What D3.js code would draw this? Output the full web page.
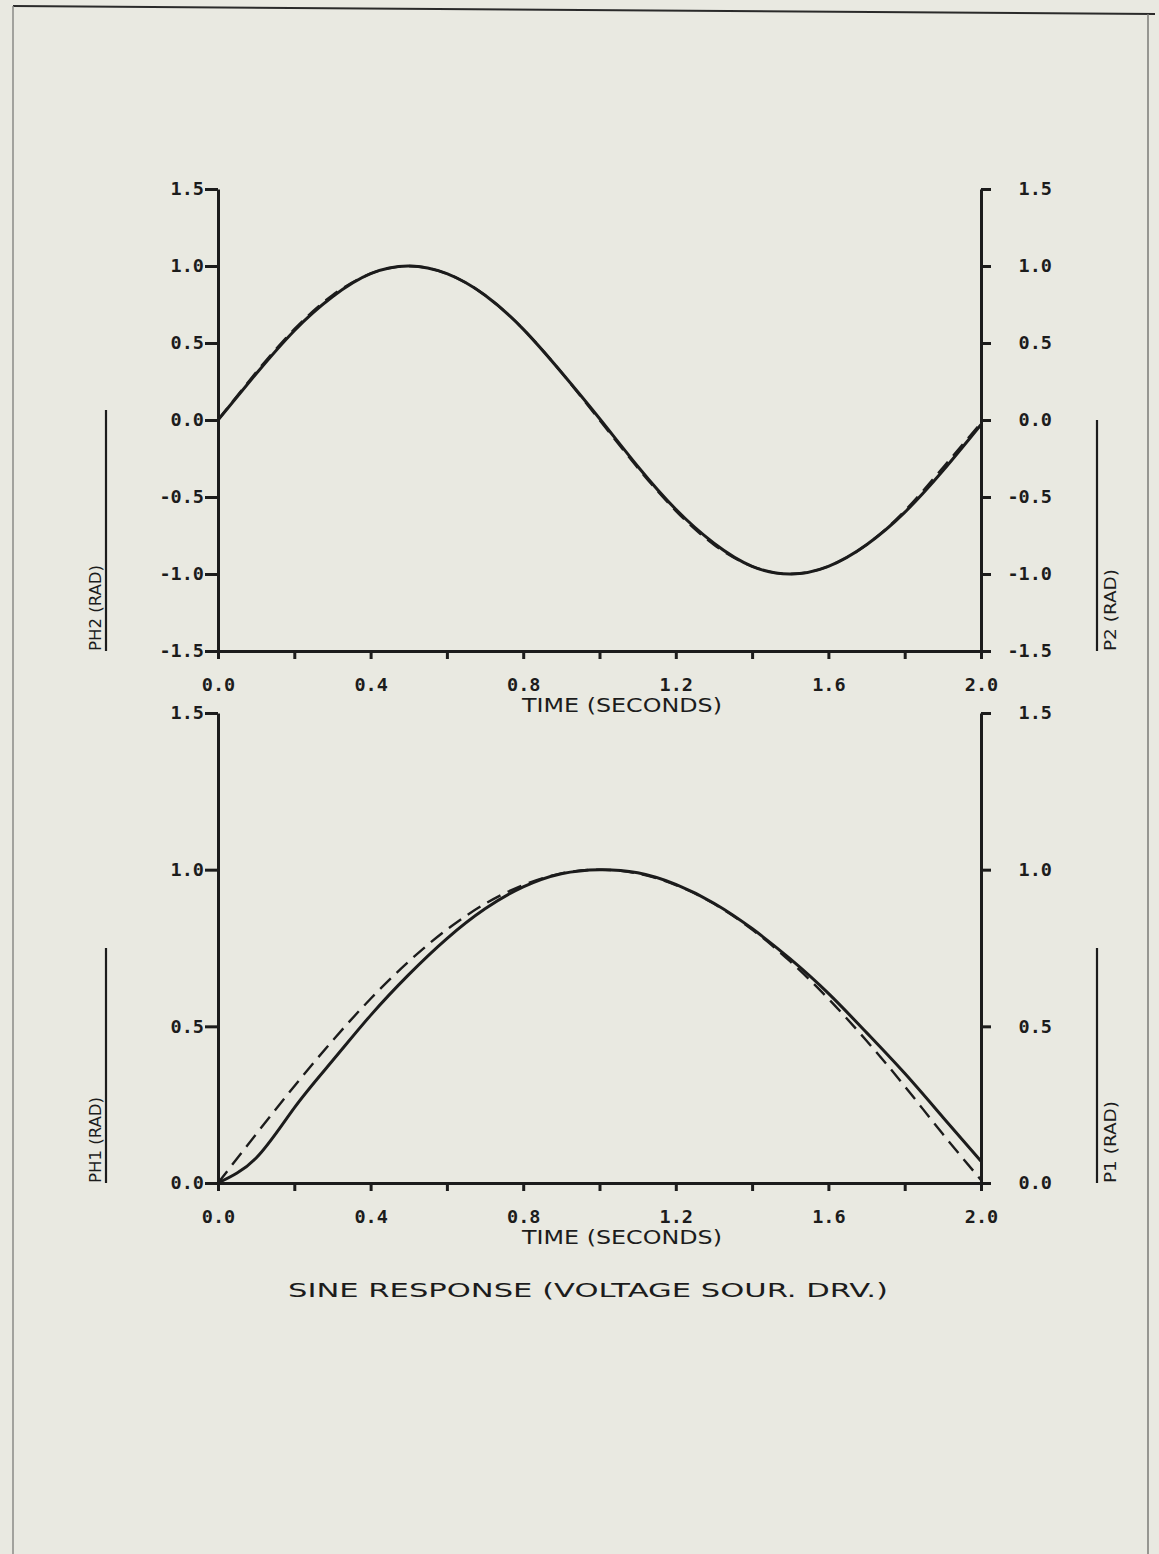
<!DOCTYPE html>
<html>
<head>
<meta charset="utf-8">
<script src="https://cdn.jsdelivr.net/npm/d3@7"></script>
<style>
  html, body { margin: 0; padding: 0; background: #e9e9e1; }
  svg { display: block; }
</style>
</head>
<body>
<svg id="chart" width="1159" height="1554"></svg>
<script>
// ---------------- data ----------------
const time = [0.0,0.1,0.2,0.3,0.4,0.5,0.6,0.7,0.8,0.9,1.0,1.1,1.2,1.3,1.4,1.5,1.6,1.7,1.8,1.9,2.0];
// top panel
const ph2 = [0.00,0.30,0.58,0.80,0.95,1.00,0.95,0.81,0.59,0.31,0.01,-0.30,-0.58,-0.80,-0.95,-1.00,-0.95,-0.81,-0.60,-0.33,-0.03];
const p2  = [0.00,0.31,0.59,0.81,0.95,1.00,0.95,0.81,0.59,0.31,0.00,-0.31,-0.59,-0.81,-0.95,-1.00,-0.95,-0.81,-0.59,-0.31,-0.02];
// bottom panel
const ph1 = [0.00,0.08,0.24,0.39,0.535,0.665,0.78,0.875,0.945,0.987,1.00,0.99,0.953,0.893,0.812,0.715,0.605,0.48,0.35,0.21,0.07];
const p1  = [0.00,0.156,0.309,0.454,0.588,0.707,0.809,0.891,0.951,0.988,1.00,0.988,0.951,0.891,0.809,0.707,0.588,0.454,0.309,0.156,0.01];

const xTicks = [0.0,0.2,0.4,0.6,0.8,1.0,1.2,1.4,1.6,1.8,2.0];
const xTickLabels = ["0.0","","0.4","","0.8","","1.2","","1.6","","2.0"];
const yTopTicks = [-1.5,-1.0,-0.5,0.0,0.5,1.0,1.5];
const yTopLabels = ["-1.5","-1.0","-0.5","0.0","0.5","1.0","1.5"];
const yBotTicks = [0.0,0.5,1.0,1.5];
const yBotLabels = ["0.0","0.5","1.0","1.5"];

const xTitle = "TIME (SECONDS)";
const chartTitle = "SINE RESPONSE (VOLTAGE SOUR. DRV.)";

// ---------------- drawing ----------------
const svg = d3.select("#chart");
const ink = "#1c1c1c";
const tickFont = "'DejaVu Sans Mono', monospace";
const textFont = "'DejaVu Sans', sans-serif";

svg.append("rect").attr("width",1159).attr("height",1554).attr("fill","#e9e9e1");

// page frame
svg.append("line").attr("x1",13).attr("y1",6).attr("x2",1155).attr("y2",14)
  .attr("stroke","#2a2a2a").attr("stroke-width",2);
svg.append("line").attr("x1",13).attr("y1",6).attr("x2",13).attr("y2",1554)
  .attr("stroke","#8a8a86").attr("stroke-width",1.5);
svg.append("line").attr("x1",1148).attr("y1",14).attr("x2",1148).attr("y2",1554)
  .attr("stroke","#7a7a76").attr("stroke-width",1.5);

const x = d3.scaleLinear().domain([0,2]).range([218,981]);

function panel(y, yTicks, yLabels, seriesSolid, seriesDashed, axisY, leftLabel, rightLabel, legTopL, legTopR) {
  const g = svg.append("g");

  // left axis
  const la = g.append("g").attr("transform",`translate(${x(0)},0)`)
    .call(d3.axisLeft(y).tickValues(yTicks).tickSize(13).tickSizeOuter(0).tickPadding(1)
      .tickFormat((d,i)=>yLabels[i]));
  // right axis
  const ra = g.append("g").attr("transform",`translate(${x(2)},0)`)
    .call(d3.axisRight(y).tickValues(yTicks).tickSize(10).tickSizeOuter(0).tickPadding(61)
      .tickFormat((d,i)=>yLabels[i]));
  ra.selectAll(".tick text").attr("text-anchor","end");
  // bottom axis
  const ba = g.append("g").attr("transform",`translate(0,${axisY})`)
    .call(d3.axisBottom(x).tickValues(xTicks).tickSize(8).tickSizeOuter(0).tickPadding(19)
      .tickFormat((d,i)=>xTickLabels[i]));

  [la,ra,ba].forEach(a=>{
    a.select(".domain").attr("stroke",ink).attr("stroke-width",3);
    a.selectAll(".tick line").attr("stroke",ink).attr("stroke-width",3);
    a.selectAll(".tick text").attr("fill",ink).attr("font-family",tickFont)
      .attr("font-weight","bold").attr("font-size",18.5);
  });

  // x title
  g.append("text").attr("x",622).attr("y",axisY+61).attr("text-anchor","middle")
    .attr("font-family",textFont).attr("font-size",19).attr("fill",ink)
    .attr("textLength",200).attr("lengthAdjust","spacingAndGlyphs").text(xTitle);

  // curves
  const line = d3.line().x((d,i)=>x(time[i])).y(d=>y(d)).curve(d3.curveNatural);
  g.append("path").datum(seriesSolid).attr("d",line).attr("fill","none")
    .attr("stroke",ink).attr("stroke-width",3);
  g.append("path").datum(seriesDashed).attr("d",line).attr("fill","none")
    .attr("stroke",ink).attr("stroke-width",2.4).attr("stroke-dasharray","15,8");

  // side labels with legend lines
  g.append("line").attr("x1",106).attr("x2",106).attr("y1",legTopL).attr("y2",axisY)
    .attr("stroke",ink).attr("stroke-width",2.2);
  g.append("text").attr("transform",`translate(101,${axisY}) rotate(-90)`)
    .attr("font-family",textFont).attr("font-size",16).attr("fill",ink)
    .attr("textLength",86).attr("lengthAdjust","spacingAndGlyphs").text(leftLabel);
  g.append("line").attr("x1",1097).attr("x2",1097).attr("y1",legTopR).attr("y2",axisY)
    .attr("stroke",ink).attr("stroke-width",2.2);
  g.append("text").attr("transform",`translate(1116,${axisY}) rotate(-90)`)
    .attr("font-family",textFont).attr("font-size",16).attr("fill",ink)
    .attr("textLength",82).attr("lengthAdjust","spacingAndGlyphs").text(rightLabel);
}

const yTopScale = d3.scaleLinear().domain([-1.5,1.5]).range([651,189]);
const yBotScale = d3.scaleLinear().domain([0,1.5]).range([1183,713]);

panel(yTopScale, yTopTicks, yTopLabels, ph2, p2, 651, "PH2 (RAD)", "P2 (RAD)", 410, 420);
panel(yBotScale, yBotTicks, yBotLabels, ph1, p1, 1183, "PH1 (RAD)", "P1 (RAD)", 948, 948);

// chart title
svg.append("text").attr("x",288).attr("y",1297)
  .attr("font-family",textFont).attr("font-size",20).attr("fill",ink)
  .attr("textLength",600).attr("lengthAdjust","spacingAndGlyphs").text(chartTitle);
</script>
</body>
</html>
